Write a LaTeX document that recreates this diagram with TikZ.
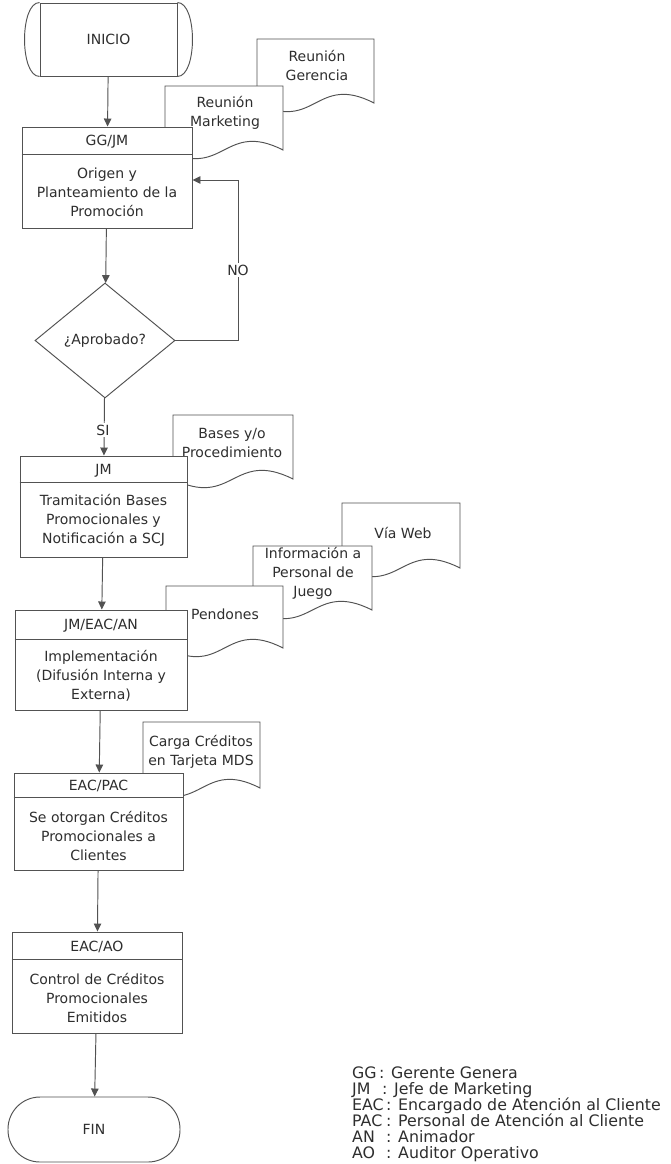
\documentclass[tikz,border=0pt]{standalone}
\usepackage{fontspec}
\setmainfont{DejaVu Sans}
\usetikzlibrary{shapes.geometric,arrows.meta}
\tikzset{
  ln/.style={draw=black!68, line width=0.95pt},
  arr/.style={ln, -{Triangle[length=8pt,width=7.5pt]}},
  box/.style={ln, fill=white, rectangle, inner sep=0pt},
  txt/.style={text=black!82, font=\fontsize{14}{19}\selectfont, align=center, inner sep=0pt},
  doc/.style={ln, fill=white},
  lab/.style={txt, fill=white, inner sep=2pt},
}
\newcommand\docshape[4]{\draw[doc] (#1,#3) -- (#2,#3) -- (#2,#4) .. controls ({(#1+#2)/2},{#4-30}) and ({(#1+#2)/2},{#4+30}) .. (#1,#4) -- cycle;}
\newcommand\legab[2]{\makebox[#1][l]{#2}}
\begin{document}
\begin{tikzpicture}[x=1pt,y=-1pt]
\useasboundingbox[fill=white] (0,0) rectangle (670,1164);

% documents (back to front)
\docshape{257}{374}{39}{103}
\node[txt] (dGer) at (317,66) {Reunión\\Gerencia};
\docshape{165}{283}{86}{150}
\node[txt] (dMkt) at (225,113) {Reunión\\Marketing};
\docshape{173}{293}{415}{479}
\node[txt] (dBas) at (232,443) {Bases y/o\\Procedimiento};
\docshape{342}{460}{503}{568}
\node[txt] (dWeb) at (403,533) {Vía Web};
\docshape{253}{372}{546}{610}
\node[txt] (dInf) at (313,573) {Información a\\Personal de\\Juego};
\docshape{166}{283}{586}{648}
\node[txt] (dPen) at (225,614) {Pendones};
\docshape{143}{260}{722}{788}
\node[txt] (dCar) at (201,752) {Carga Créditos\\en Tarjeta MDS};

% start
\node[box, txt, draw=black!68, minimum width=137pt, minimum height=73pt] (ini) at (108.5,39.5) {INICIO};
\draw[ln] (ini.north west) .. controls +(-20,0) and +(-20,0) .. (ini.south west);
\draw[ln] (ini.north east) .. controls +(20,0) and +(20,0) .. (ini.south east);

% box 1
\node[box, minimum width=170pt, minimum height=101pt] (b1) at (107,177.5) {};
\draw[ln] ([yshift=-28pt]b1.north west) -- ([yshift=-28pt]b1.north east);
\node[txt] (h1) at (107,142) {GG/JM};
\node[txt] (t1) at (107,192) {Origen y\\Planteamiento de la\\Promoción};

% decision
\node[ln, diamond, fill=white, minimum width=140pt, minimum height=115pt, inner sep=0pt, txt] (dia) at (105,340.5) {¿Aprobado?};

% box 2
\node[box, minimum width=167pt, minimum height=101pt] (b2) at (103.5,506.5) {};
\draw[ln] ([yshift=-27pt]b2.north west) -- ([yshift=-27pt]b2.north east);
\node[txt] (h2) at (103.5,470.5) {JM};
\node[txt] (t2) at (103.5,520) {Tramitación Bases\\Promocionales y\\Notificación a SCJ};

% box 3
\node[box, minimum width=172pt, minimum height=100pt] (b3) at (101,660) {};
\draw[ln] ([yshift=-30pt]b3.north west) -- ([yshift=-30pt]b3.north east);
\node[txt] (h3) at (101,626) {JM/EAC/AN};
\node[txt] (t3) at (101,676) {Implementación\\(Difusión Interna y\\Externa)};

% box 4
\node[box, minimum width=169pt, minimum height=97pt] (b4) at (98.5,821.5) {};
\draw[ln] ([yshift=-25pt]b4.north west) -- ([yshift=-25pt]b4.north east);
\node[txt] (h4) at (98.5,786) {EAC/PAC};
\node[txt] (t4) at (98.5,836) {Se otorgan Créditos\\Promocionales a\\Clientes};

% box 5
\node[box, minimum width=170pt, minimum height=101pt] (b5) at (97,982.5) {};
\draw[ln] ([yshift=-28pt]b5.north west) -- ([yshift=-28pt]b5.north east);
\node[txt] (h5) at (97,947) {EAC/AO};
\node[txt] (t5) at (97,998) {Control de Créditos\\Promocionales\\Emitidos};

% end
\node[box, txt, draw=black!68, rounded corners=32pt, minimum width=172pt, minimum height=65pt] (fin) at (94,1129.5) {FIN};

% connectors
\draw[arr] (ini) -- (b1);
\draw[arr] (b1) -- (dia);
\coordinate (noc) at (238,180);
\draw[arr] (dia.east) -| (noc) -- (b1.east |- noc);
\node[lab] (lno) at (238,270) {NO};
\draw[arr] (dia) -- (b2);
\node[lab] (lsi) at (103,430) {SI};
\draw[arr] (b2) -- (b3);
\draw[arr] (b3) -- (b4);
\draw[arr] (b4) -- (b5);
\draw[arr] (b5) -- (fin);

% legend
\node[txt, anchor=north west, align=left, font=\fontsize{15.8}{16}\selectfont] (leg) at (352,1067) {%
\legab{27pt}{GG}: Gerente Genera\\
\legab{30pt}{JM}: Jefe de Marketing\\
\legab{34pt}{EAC}: Encargado de Atención al Cliente\\
\legab{34pt}{PAC}: Personal de Atención al Cliente\\
\legab{34pt}{AN}: Animador\\
\legab{34pt}{AO}: Auditor Operativo};
\end{tikzpicture}
\end{document}
